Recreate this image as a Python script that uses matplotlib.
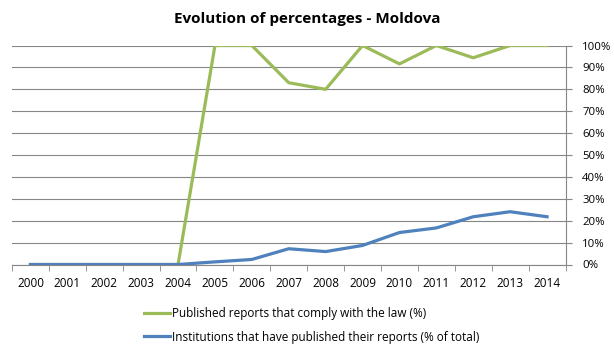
import matplotlib.pyplot as plt
from matplotlib.ticker import FixedLocator, PercentFormatter

plt.rcParams['font.family'] = ['Open Sans', 'DejaVu Sans']

YEARS = [str(y) for y in range(2000, 2015)]
COMPLY = [0, 0, 0, 0, 0, 100, 100, 83, 80, 100, 91.6, 100, 94.4, 100, 100]
PUBLISHED = [0, 0, 0, 0, 0, 1.2, 2.3, 7.2, 5.9, 8.7, 14.6, 16.7, 21.8, 24.1, 21.8]
LABELS = ['Published reports that comply with the law (%)',
          'Institutions that have published their reports (% of total)']

GREEN = '#9BBB59'
BLUE = '#4F81BD'
GRID = '#868686'

fig = plt.figure(figsize=(6.14, 3.52), dpi=100)
ax = fig.add_axes([12 / 614, 1 - 264.5 / 352, 553.5 / 614, 219 / 352])

x = list(range(len(YEARS)))
ax.plot(x, COMPLY, color=GREEN, lw=2.3, label=LABELS[0], solid_joinstyle='round')
ax.plot(x, PUBLISHED, color=BLUE, lw=2.3, label=LABELS[1], solid_joinstyle='round')

ax.set_xlim(-0.5, len(YEARS) - 0.5)
ax.set_ylim(0, 100)
ax.set_yticks(range(0, 101, 10))
ax.yaxis.set_major_formatter(PercentFormatter(decimals=0))
ax.yaxis.tick_right()
ax.grid(axis='y', color=GRID, lw=0.8)
ax.set_axisbelow(True)

ax.set_xticks(x)
ax.set_xticklabels(YEARS)
ax.xaxis.set_minor_locator(FixedLocator([i - 0.5 for i in range(len(YEARS) + 1)]))
ax.tick_params(axis='x', which='major', length=0, pad=9, labelsize=8.5)
ax.tick_params(axis='x', which='minor', length=4, color=GRID, direction='out')
ax.tick_params(axis='y', length=4, color=GRID, pad=8, labelsize=8.2)

for side in ['top', 'left']:
    ax.spines[side].set_visible(False)
for side in ['bottom', 'right']:
    ax.spines[side].set_color(GRID)
    ax.spines[side].set_linewidth(0.8)

fig.text(0.5, 1 - 19 / 352, 'Evolution of percentages - Moldova', ha='center', va='center',
         fontsize=11, fontweight='bold')

fig.legend(loc='upper left', bbox_to_anchor=(138 / 614, 1 - 301 / 352), frameon=False,
           fontsize=8.5, handlelength=2.2, handletextpad=0.15, labelspacing=0.9,
           borderpad=0)

fig.savefig('out.png', dpi=100)
